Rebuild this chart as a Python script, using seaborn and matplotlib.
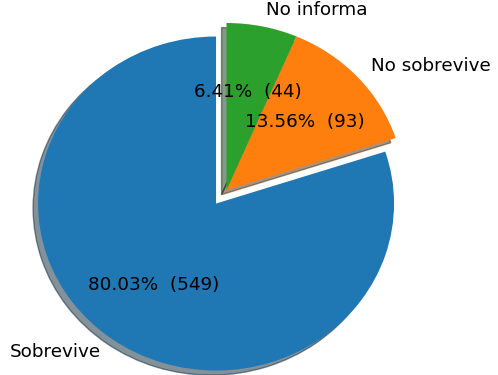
import matplotlib
matplotlib.use("Agg")
import matplotlib.pyplot as plt
import seaborn as sns

# Survival outcome counts
categories = ["Sobrevive", "No sobrevive", "No informa"]
counts = [549, 93, 44]

colors = sns.color_palette("tab10", 3)
total = sum(counts)


def fmt_pct(pct):
    n = int(round(pct * total / 100.0))
    return "%.2f%%  (%d)" % (pct, n)


fig = plt.figure(figsize=(4.98, 3.75), dpi=100)
ax = fig.add_axes([0, 0, 1, 1])

wedges, texts, autotexts = ax.pie(
    counts,
    labels=categories,
    colors=colors,
    explode=(0.1, 0, 0),
    startangle=90,
    shadow=True,
    autopct=fmt_pct,
    textprops={"fontsize": 13.2},
)

# Place the pie inside the canvas (slightly wider than tall)
sx, sy = 178.0, 167.0
cx, cy = 226.5, 185.0
ax.set_aspect("auto")
ax.set_xlim(-cx / sx, (498 - cx) / sx)
ax.set_ylim(-cy / sy, (375 - cy) / sy)
ax.axis("off")

fig.savefig("out.png", dpi=100)
